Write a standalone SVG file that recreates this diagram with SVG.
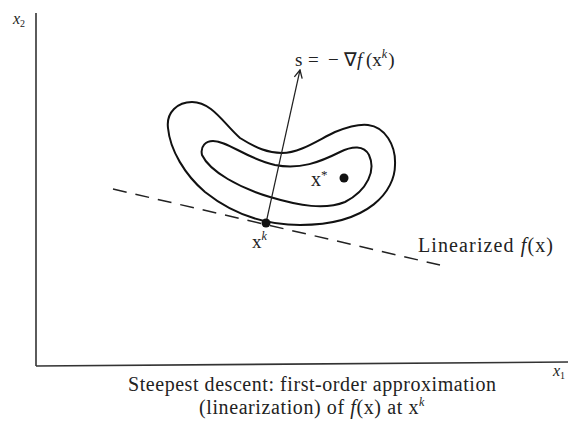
<svg xmlns="http://www.w3.org/2000/svg" width="568" height="427" viewBox="0 0 568 427">
<style>
.t{font-family:"Liberation Serif","Times New Roman",serif;fill:#222}
.c{fill:none;stroke:#111;stroke-width:2}
.ax{fill:none;stroke:#333;stroke-width:1.6}
</style>
<defs>
<marker id="ah" markerWidth="10" markerHeight="10" refX="9" refY="5" orient="auto" markerUnits="userSpaceOnUse">
<path d="M1,1 L9,5 L1,9" fill="none" stroke="#222" stroke-width="1.3"/>
</marker>
</defs>
<rect width="568" height="427" fill="#fff"/>
<g id="axes">
<line class="ax" x1="36" y1="13" x2="36" y2="366"/>
<line class="ax" x1="36" y1="366" x2="568" y2="362"/>
<text class="t" x="13" y="24" font-size="16" font-style="italic">x<tspan font-size="10" dy="3" font-style="normal">2</tspan></text>
<text class="t" x="553" y="376" font-size="16" font-style="italic">x<tspan font-size="10" dy="3" font-style="normal">1</tspan></text>
</g>
<g id="outer-contour">
<path class="c" d="M192,102 C212,102 224,124 240,138 C256,148 268,153 282,153 C300,153 318,140 335,132 C350,126 360,124 368,125 C385,127 396,145 395,165 C395,190 370,225 300,225 C260,225 230,212 205,192 C185,175 170,150 168,128 C166,112 178,102 192,102 Z"/>
</g>
<g id="inner-contour">
<path class="c" d="M202,155 C200,146 206,141 213,141 C228,141 245,158 275,165 C300,170 320,162 340,152 C352,146 364,145 369,155 C376,170 368,190 345,202 C325,210 300,206 270,197 C240,188 210,172 202,155 Z"/>
</g>
<g id="connectors">
<line x1="113" y1="189" x2="440" y2="265" stroke="#222" stroke-width="1.5" stroke-dasharray="14,9"/>
<line x1="266" y1="223" x2="300" y2="70" stroke="#222" stroke-width="1.2" marker-end="url(#ah)"/>
</g>
<g id="xstar">
<circle cx="344" cy="178" r="4.5" fill="#111"/>
<text class="t" x="311" y="186" font-size="20">x<tspan font-size="13" dy="-7">*</tspan></text>
</g>
<g id="xk">
<circle cx="266" cy="223" r="4.5" fill="#111"/>
<text class="t" x="252" y="248" font-size="19">x<tspan font-size="12" dy="-8" font-style="italic">k</tspan></text>
</g>
<g id="s-label">
<text class="t" y="66" font-size="19"><tspan x="295">s</tspan><tspan x="308">=</tspan><tspan x="328">−</tspan><tspan x="344">∇</tspan><tspan x="357" font-style="italic">f</tspan><tspan x="366">(x</tspan><tspan font-size="12" dy="-8" font-style="italic">k</tspan><tspan dy="8" dx="1">)</tspan></text>
</g>
<g id="linearized-label">
<text class="t" x="418" y="252" font-size="20" textLength="135" lengthAdjust="spacing">Linearized <tspan font-style="italic">f</tspan>(x)</text>
</g>
<g id="caption">
<text class="t" x="128" y="391" font-size="20" textLength="368" lengthAdjust="spacing">Steepest descent: first-order approximation</text>
<text class="t" x="312" y="414" font-size="20" text-anchor="middle" letter-spacing="0.6">(linearization) of <tspan font-style="italic">f</tspan>(x) at x<tspan font-size="12" dy="-8" font-style="italic">k</tspan></text>
</g>
</svg>
